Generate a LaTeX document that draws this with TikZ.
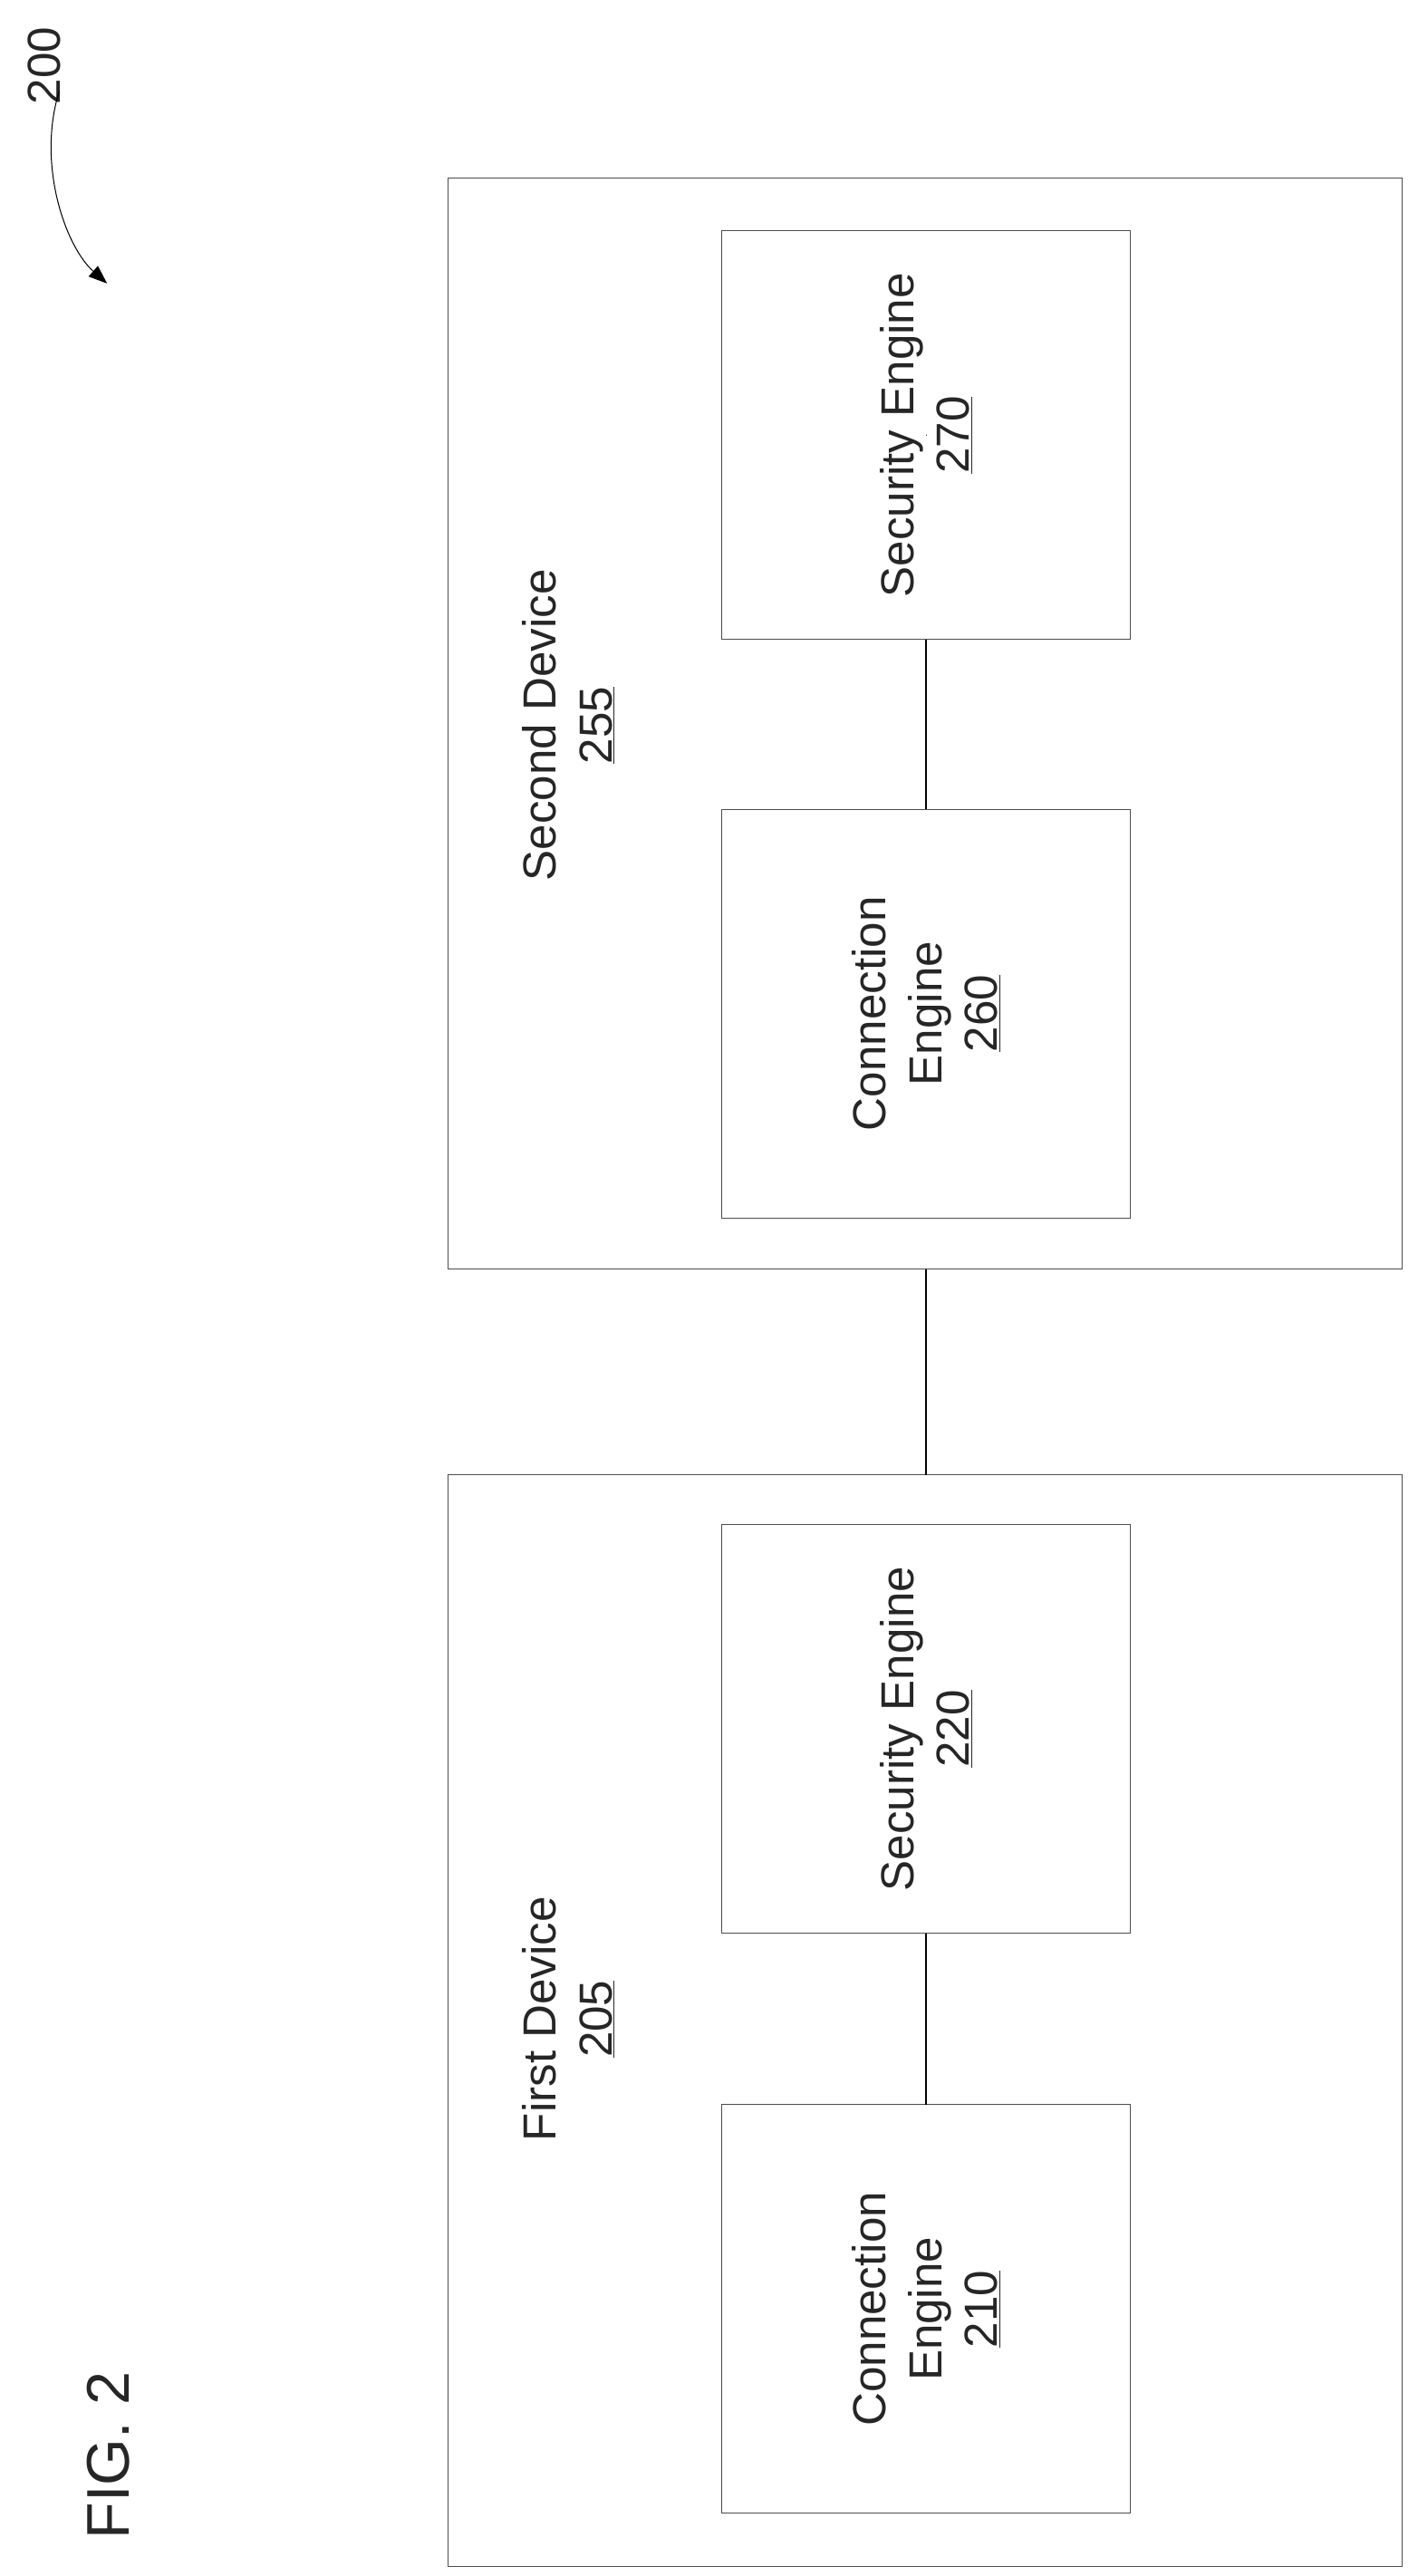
\documentclass[tikz,border=0pt]{standalone}
\usepackage{fontspec}
\setmainfont{Liberation Sans}
\usetikzlibrary{arrows.meta}
\begin{document}
\begin{tikzpicture}[x=0.05cm,y=-0.05cm,
  box/.style={draw=black!70,line width=0.8pt},
  lbl/.style={rotate=90,align=center,font=\fontsize{40}{48}\selectfont,text=black!85},
  con/.style={draw=black,line width=1.3pt}]
\useasboundingbox[fill=white] (0,0) rectangle (860,1563);
\draw[box] (272,108) rectangle (851,770);
\draw[box] (272,895) rectangle (851,1557);
\node[box,minimum width=0,inner sep=0] (b270) at (562,264) {};
\draw[box] (438,140) rectangle (686,388);
\draw[box] (438,491) rectangle (686,739);
\draw[box] (438,925) rectangle (686,1173);
\draw[box] (438,1277) rectangle (686,1525);
\coordinate (a270) at (562,388);
\coordinate (a260) at (562,491);
\coordinate (d2) at (562,770);
\coordinate (d1) at (562,895);
\coordinate (a220) at (562,1173);
\coordinate (a210) at (562,1277);
\draw[con] (a270) -- (a260);
\draw[con] (d2) -- (d1);
\draw[con] (a220) -- (a210);
\node[lbl] (t270) at (562,264) {Security Engine\\\underline{270}};
\node[lbl] (t260) at (562,615) {Connection\\Engine\\\underline{260}};
\node[lbl] (t220) at (562,1049) {Security Engine\\\underline{220}};
\node[lbl] (t210) at (562,1401) {Connection\\Engine\\\underline{210}};
\node[lbl] (t255) at (345,440) {Second Device\\\underline{255}};
\node[lbl] (t205) at (345,1225) {First Device\\\underline{205}};
\node[lbl,font=\fontsize{52}{60}\selectfont] (fig) at (66,1490) {FIG. 2};
\node[lbl] (t200) at (27,40) {200};
\coordinate (s) at (36,55);
\coordinate (e) at (65,172);
\draw[line width=0.8pt,-{Triangle[length=16pt,width=12pt]}] (s) .. controls (22,100) and (40,150) .. (e);
\end{tikzpicture}
\end{document}
